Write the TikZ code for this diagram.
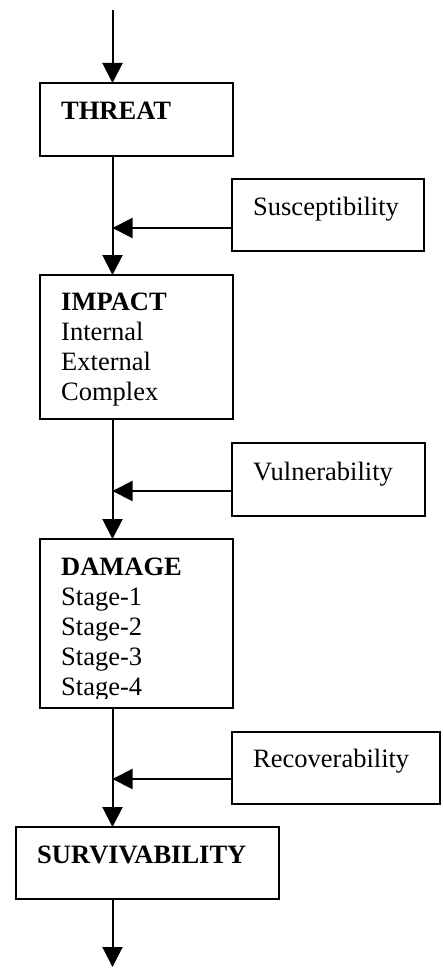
\documentclass[tikz,border=0pt]{standalone}
\usepackage{fontspec}
\setmainfont{Liberation Serif}
\usetikzlibrary{arrows.meta}
\tikzset{
  box/.style={draw, line width=1.7pt, rectangle, inner sep=0pt, outer sep=0pt, anchor=north west},
  arr/.style={line width=2pt, -{Triangle[length=20pt,width=20pt]}},
  lbl/.style={inner sep=0pt, anchor=base west, font=\fontsize{26.5}{30}\selectfont},
  hd/.style={inner sep=0pt, anchor=base west, font=\fontsize{26.5}{30}\selectfont\bfseries},
}
\begin{document}
\begin{tikzpicture}[x=1pt,y=-1pt]
\useasboundingbox (0,0) rectangle (442,968);
% boxes
\node[box, minimum width=193pt, minimum height=73pt] (threat) at (40,83) {};
\node[box, minimum width=192pt, minimum height=72pt] (susc) at (232,179) {};
\node[box, minimum width=193pt, minimum height=144pt] (impact) at (40,275) {};
\node[box, minimum width=193pt, minimum height=73pt] (vuln) at (232,443) {};
\node[box, minimum width=193pt, minimum height=169pt] (damage) at (40,539) {};
\node[box, minimum width=208pt, minimum height=72pt] (recov) at (232,732) {};
\node[box, minimum width=263pt, minimum height=72pt] (surv) at (16,827) {};
% texts
\node[hd] (tthreat) at (61,120) {THREAT};
\node[lbl] (tsusc) at (253,215) {Susceptibility};
\node[hd] (timpact) at (61,310) {IMPACT};
\node[lbl] (tint) at (61,340.3) {Internal};
\node[lbl] (text) at (61,370.6) {External};
\node[lbl] (tcom) at (61,400.9) {Complex};
\node[lbl] (tvuln) at (253,480) {Vulnerability};
\node[hd] (tdamage) at (61,575) {DAMAGE};
\node[lbl] (ts1) at (61,605) {Stage-1};
\node[lbl] (ts2) at (61,635) {Stage-2};
\node[lbl] (ts3) at (61,665) {Stage-3};
\begin{scope}
  \clip (40,539) rectangle (233,698);
  \node[lbl] (ts4) at (61,695) {Stage-4};
\end{scope}
\node[lbl] (trecov) at (253,767) {Recoverability};
\node[hd] (tsurv) at (37,863) {SURVIVABILITY};
% connectors
\coordinate (top) at (112.5,10);
\coordinate (bot) at (112.5,967);
\draw[arr] (top) -- (top |- threat.north);
\draw[arr] (top |- threat.south) -- (top |- impact.north);
\draw[arr] (top |- impact.south) -- (top |- damage.north);
\draw[arr] (top |- damage.south) -- (top |- surv.north);
\draw[arr] (top |- surv.south) -- (bot);
\coordinate (j1) at ([yshift=-13pt]susc.west);
\coordinate (j2) at ([yshift=-11.5pt]vuln.west);
\coordinate (j3) at ([yshift=-11pt]recov.west);
\draw[arr] (j1) -- (j1 -| top);
\draw[arr] (j2) -- (j2 -| top);
\draw[arr] (j3) -- (j3 -| top);
\end{tikzpicture}
\end{document}
